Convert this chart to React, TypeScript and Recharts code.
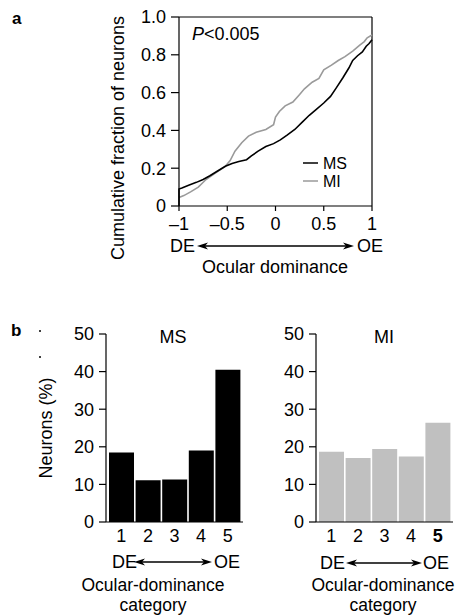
import React from 'react'
import {
  Bar,
  BarChart,
  Line,
  LineChart,
  ReferenceLine,
  XAxis,
  YAxis,
} from 'recharts'

const FONT = '"Liberation Sans", Arial, Helvetica, sans-serif'

// panel a: cumulative fraction vs ocular dominance index
const odTicks = [-1, -0.5, 0, 0.5, 1]
const odTickLabels = ['\u20131', '\u20130.5', '0', '0.5', '1']
const fracTicks = [0, 0.2, 0.4, 0.6, 0.8, 1]
const fracTickLabels = ['0', '0.2', '0.4', '0.6', '0.8', '1.0']

const msCurve = [
  [-1, 0], [-1, 0.09], [-0.97, 0.095], [-0.9, 0.11], [-0.82, 0.125],
  [-0.75, 0.14], [-0.68, 0.16], [-0.6, 0.185], [-0.52, 0.21], [-0.45, 0.225],
  [-0.38, 0.235], [-0.3, 0.245], [-0.25, 0.265], [-0.18, 0.29], [-0.1, 0.315],
  [-0.02, 0.33], [0.05, 0.35], [0.12, 0.375], [0.2, 0.405], [0.28, 0.445],
  [0.35, 0.48], [0.42, 0.51], [0.5, 0.545], [0.57, 0.58], [0.63, 0.625],
  [0.7, 0.68], [0.76, 0.73], [0.8, 0.77], [0.85, 0.795], [0.9, 0.815],
  [0.94, 0.845], [0.97, 0.86], [1, 0.88],
]

const miCurve = [
  [-1, 0.045], [-0.95, 0.055], [-0.88, 0.075], [-0.8, 0.1], [-0.72, 0.14],
  [-0.62, 0.175], [-0.52, 0.21], [-0.47, 0.24], [-0.42, 0.29], [-0.35, 0.335],
  [-0.28, 0.37], [-0.2, 0.39], [-0.1, 0.405], [-0.02, 0.43], [0, 0.47],
  [0.04, 0.5], [0.1, 0.53], [0.18, 0.55], [0.25, 0.59], [0.3, 0.62],
  [0.38, 0.655], [0.45, 0.675], [0.5, 0.72], [0.58, 0.745], [0.65, 0.77],
  [0.72, 0.79], [0.8, 0.82], [0.87, 0.85], [0.92, 0.87], [0.95, 0.89],
  [1, 0.905],
]

// panel b: percentage of neurons per ocular-dominance category
const categories = ['1', '2', '3', '4', '5']
const msPercent = [18.5, 11.1, 11.3, 19.0, 40.5]
const miPercent = [18.7, 17.0, 19.4, 17.4, 26.4]
const pctTicks = [0, 10, 20, 30, 40, 50]

const toPoints = (pairs: number[][]) => pairs.map(([x, y]) => ({ x, y }))
const msData = toPoints(msCurve)
const miData = toPoints(miCurve)

const tickStyle = { fontSize: 18, fill: '#000', fontFamily: FONT }
const axisLine = { stroke: '#000', strokeWidth: 1.2 }

const CumulativeChart = () => (
  <LineChart
    width={462}
    height={290}
    margin={{ top: 17, right: 90, left: 120, bottom: 54 }}
  >
    <XAxis
      dataKey="x"
      type="number"
      domain={[-1, 1]}
      ticks={odTicks}
      tickFormatter={(v: number) => odTickLabels[odTicks.indexOf(v)]}
      height={30}
      tickSize={5}
      tickMargin={6}
      axisLine={axisLine}
      tickLine={axisLine}
      tick={tickStyle}
      interval={0}
    />
    <YAxis
      dataKey="y"
      type="number"
      domain={[0, 1]}
      ticks={fracTicks}
      tickFormatter={(v: number) => fracTickLabels[fracTicks.indexOf(v)]}
      width={59}
      tickSize={8}
      tickMargin={5}
      axisLine={axisLine}
      tickLine={axisLine}
      tick={tickStyle}
      interval={0}
    />
    <ReferenceLine y={1} stroke="#000" strokeWidth={1.2} />
    <ReferenceLine x={1} stroke="#000" strokeWidth={1.2} />
    <Line
      data={miData}
      dataKey="y"
      type="linear"
      stroke="#9a9a9a"
      strokeWidth={1.6}
      dot={false}
      isAnimationActive={false}
    />
    <Line
      data={msData}
      dataKey="y"
      type="linear"
      stroke="#000"
      strokeWidth={1.6}
      dot={false}
      isAnimationActive={false}
    />
  </LineChart>
)

const CategoryTick = (props: any) => {
  const { x, y, payload, boldLast } = props
  const bold = boldLast && payload.value === categories[categories.length - 1]
  return (
    <text
      x={x}
      y={y}
      dy="0.71em"
      textAnchor="middle"
      fontSize={18}
      fontFamily={FONT}
      fontWeight={bold ? 'bold' : 'normal'}
      fill="#000"
    >
      {payload.value}
    </text>
  )
}

interface HistProps {
  values: number[]
  color: string
  width: number
  left: number
  right: number
  boldLast?: boolean
}

const Histogram = ({ values, color, width, left, right, boldLast }: HistProps) => {
  const data = categories.map((c, i) => ({ cat: c, pct: values[i] }))
  return (
    <BarChart
      width={width}
      height={325}
      data={data}
      margin={{ top: 44, right, left, bottom: 63 }}
      barCategoryGap={1}
    >
      <XAxis
        dataKey="cat"
        height={30}
        padding={{ left: 2, right: 2 }}
        tickLine={false}
        tickSize={0}
        tickMargin={7}
        axisLine={axisLine}
        tick={<CategoryTick boldLast={boldLast} />}
        interval={0}
      />
      <YAxis
        type="number"
        domain={[0, 50]}
        ticks={pctTicks}
        width={50}
        tickSize={7}
        tickMargin={5}
        axisLine={axisLine}
        tickLine={axisLine}
        tick={tickStyle}
        interval={0}
      />
      <Bar dataKey="pct" fill={color} isAnimationActive={false} />
    </BarChart>
  )
}

const Arrow = ({ x1, x2, y }: { x1: number; x2: number; y: number }) => (
  <g>
    <line x1={x1 + 6} x2={x2 - 6} y1={y} y2={y} stroke="#000" strokeWidth={1.3} />
    <path d={`M${x1},${y} L${x1 + 11},${y - 3.5} L${x1 + 8},${y} L${x1 + 11},${y + 3.5} Z`} fill="#000" />
    <path d={`M${x2},${y} L${x2 - 11},${y - 3.5} L${x2 - 8},${y} L${x2 - 11},${y + 3.5} Z`} fill="#000" />
  </g>
)

const txt = { fontFamily: FONT, fontSize: 18, fill: '#000' }

const App = () => {
  return (
    <div
      style={{
        position: 'absolute',
        left: 0,
        top: 0,
        width: 462,
        height: 615,
        background: '#fff',
        fontFamily: FONT,
      }}
    >
      <div style={{ position: 'absolute', left: 0, top: 0 }}>
        <CumulativeChart />
      </div>
      <div style={{ position: 'absolute', left: 0, top: 290 }}>
        <Histogram values={msPercent} color="#000" width={250} left={56} right={7} />
      </div>
      <div style={{ position: 'absolute', left: 240, top: 290 }}>
        <Histogram values={miPercent} color="#c0c0c0" width={222} left={26} right={9} boldLast />
      </div>
      <svg
        width={462}
        height={615}
        style={{ position: 'absolute', left: 0, top: 0, pointerEvents: 'none' }}
      >
        {/* panel a */}
        <text x={12} y={24} fontFamily={FONT} fontSize={17} fontWeight="bold">a</text>
        <text
          {...txt}
          transform="translate(124,138) rotate(-90)"
          textAnchor="middle"
        >
          Cumulative fraction of neurons
        </text>
        <text {...txt} x={192} y={40}>
          <tspan fontStyle="italic">P</tspan>&lt;0.005
        </text>
        <line x1={303} x2={318} y1={163} y2={163} stroke="#000" strokeWidth={1.5} />
        <text {...txt} fontSize={16} x={323} y={169}>MS</text>
        <line x1={303} x2={318} y1={181} y2={181} stroke="#9a9a9a" strokeWidth={1.5} />
        <text {...txt} fontSize={16} x={323} y={187}>MI</text>
        <text {...txt} x={170} y={252}>DE</text>
        <Arrow x1={197} x2={354} y={246} />
        <text {...txt} x={357} y={252}>OE</text>
        <text {...txt} x={275} y={273} textAnchor="middle">Ocular dominance</text>

        {/* panel b */}
        <text x={11} y={336} fontFamily={FONT} fontSize={17} fontWeight="bold">b</text>
        <circle cx={40} cy={331} r={1} fill="#000" />
        <circle cx={40} cy={357} r={1} fill="#000" />
        <text
          {...txt}
          transform="translate(52,428) rotate(-90)"
          textAnchor="middle"
        >
          Neurons (%)
        </text>
        <text {...txt} x={173} y={343} textAnchor="middle">MS</text>
        <text {...txt} x={384} y={343} textAnchor="middle">MI</text>

        <text {...txt} x={112} y={568}>DE</text>
        <Arrow x1={134} x2={212} y={562} />
        <text {...txt} x={214} y={568}>OE</text>
        <text {...txt} fontSize={17.5} x={153} y={591} textAnchor="middle">Ocular-dominance</text>
        <text {...txt} fontSize={17.5} x={153} y={611} textAnchor="middle">category</text>

        <text {...txt} x={320} y={569}>DE</text>
        <Arrow x1={346} x2={422} y={563} />
        <text {...txt} x={423} y={569}>OE</text>
        <text {...txt} fontSize={17.5} x={383} y={591} textAnchor="middle">Ocular-dominance</text>
        <text {...txt} fontSize={17.5} x={383} y={611} textAnchor="middle">category</text>
      </svg>
    </div>
  )
}

export default App
